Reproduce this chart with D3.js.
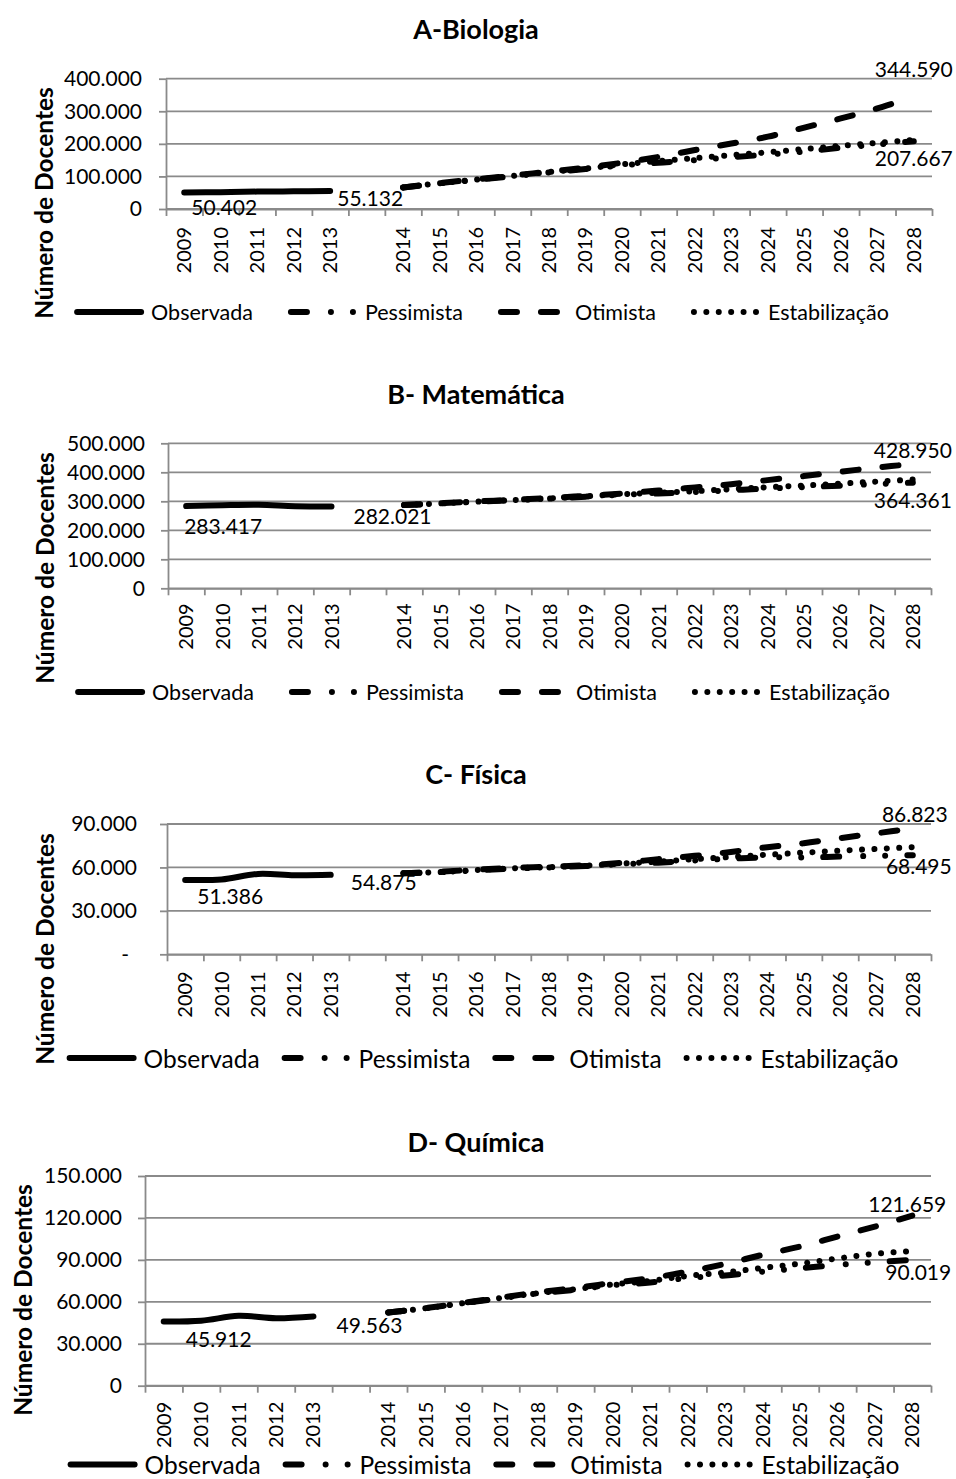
<!DOCTYPE html>
<html>
<head>
<meta charset="utf-8">
<script src="https://cdn.jsdelivr.net/npm/d3@7"></script>
<style>
  body { margin: 0; background: #fff; }
  text { font-family: Lato, "Open Sans", sans-serif; fill: #000; }
</style>
</head>
<body>
<svg id="chart" width="956" height="1479"></svg>
<script>
// categories: observed years, one empty slot, projected years
const years = ["2009", "2010", "2011", "2012", "2013", " ",
  "2014", "2015", "2016", "2017", "2018", "2019", "2020", "2021",
  "2022", "2023", "2024", "2025", "2026", "2027", "2028"];
const obsYears = years.slice(0, 5);
const projYears = years.slice(6);

const seriesNames = ["Observada", "Pessimista", "Otimista", "Estabilização"];

// A - Biologia
const bioObservada = [50402, 51800, 53400, 54300, 55132];
const bioPessimista = [66000, 78500, 89500, 100500, 112000, 122500, 134000, 142000, 150000, 159000, 167000, 176000, 188000, 198000, 207667];
const bioOtimista = [66000, 79500, 91000, 102500, 115000, 127000, 142000, 160000, 181000, 201000, 222000, 250000, 278000, 309000, 344590];
const bioEstabilizacao = [66000, 79000, 90000, 101500, 113500, 124000, 137000, 147000, 156000, 165000, 174000, 184000, 194000, 203000, 212000];
const bioTicks = [0, 100000, 200000, 300000, 400000];
const bioTickLabels = ["0", "100.000", "200.000", "300.000", "400.000"];

// B - Matemática
const matObservada = [283417, 286500, 288000, 283000, 282021];
const matPessimista = [287000, 292500, 298500, 304000, 309500, 316000, 323000, 327000, 332000, 338000, 344000, 349000, 354000, 359500, 364361];
const matOtimista = [287000, 293500, 299500, 305000, 311000, 319000, 327000, 337000, 348000, 359000, 373000, 387000, 402000, 416000, 428950];
const matEstabilizacao = [287000, 293000, 299000, 304500, 310000, 317000, 324500, 329500, 335000, 342000, 348500, 354500, 361000, 368000, 375000];
const matTicks = [0, 100000, 200000, 300000, 400000, 500000];
const matTickLabels = ["0", "100.000", "200.000", "300.000", "400.000", "500.000"];

// C - Física
const fisObservada = [51386, 51700, 55500, 54600, 54875];
const fisPessimista = [56000, 56700, 58000, 59200, 60000, 61000, 62300, 63300, 64800, 66000, 67000, 66800, 67500, 68000, 68495];
const fisOtimista = [56000, 57000, 58500, 59700, 60500, 61500, 63200, 65700, 68000, 70700, 74000, 76700, 80200, 83600, 86823];
const fisEstabilizacao = [56000, 56800, 58200, 59400, 60200, 61200, 62700, 64000, 65700, 67200, 68800, 70200, 71600, 72800, 74000];
const fisTicks = [0, 30000, 60000, 90000];
const fisTickLabels = ["-", "30.000", "60.000", "90.000"];

// D - Química
const quiObservada = [45912, 46500, 50000, 48300, 49563];
const quiPessimista = [52300, 55400, 59000, 62500, 66000, 68700, 72000, 73800, 77000, 78800, 81600, 84000, 86400, 88300, 90019];
const quiOtimista = [52300, 55500, 59200, 63000, 66800, 70000, 73500, 76900, 81600, 87100, 93600, 99500, 106700, 113800, 121659];
const quiEstabilizacao = [52300, 55400, 59000, 62700, 66200, 69000, 72400, 75000, 78500, 81000, 84200, 87300, 91000, 94300, 96300];
const quiTicks = [0, 30000, 60000, 90000, 120000, 150000];
const quiTickLabels = ["0", "30.000", "60.000", "90.000", "120.000", "150.000"];

const fmt = d3.formatLocale({decimal: ",", thousands: ".", grouping: [3], currency: ["R$", ""]}).format(",d");

const panels = [
  {title: "A-Biologia", series: [bioObservada, bioPessimista, bioOtimista, bioEstabilizacao],
   ticks: bioTicks, tickLabels: bioTickLabels,
   left: 166, right: 932, top: 78.7, bottom: 209, titleY: 28, axTitleX: 43, axTitleY: 203,
   tickPad: 17, labelGap: 18, legendY: 312, legendSize: 21.5, legendPad: 38, legendMid: 480,
   labels: [[0, 0, 40, 14], [0, 4, 40, 6], [2, 14, 0, -28], [1, 14, 0, 16]]},
  {title: "B- Matemática", series: [matObservada, matPessimista, matOtimista, matEstabilizacao],
   ticks: matTicks, tickLabels: matTickLabels,
   left: 168, right: 931, top: 443.3, bottom: 588.3, titleY: 393, axTitleX: 44, axTitleY: 568,
   tickPad: 16, labelGap: 15, legendY: 692, legendSize: 21.5, legendPad: 38, legendMid: 481,
   labels: [[0, 0, 37, 19], [0, 4, 61, 8.5], [2, 14, 0, -14], [1, 14, 0, 17]]},
  {title: "C- Física", series: [fisObservada, fisPessimista, fisOtimista, fisEstabilizacao],
   ticks: fisTicks, tickLabels: fisTickLabels,
   left: 167, right: 931, top: 824, bottom: 954.3, titleY: 773, axTitleX: 44, axTitleY: 949,
   tickPad: 23, labelGap: 17, legendY: 1058, legendSize: 24.5, legendPad: 25, legendMid: 481,
   labels: [[0, 0, 45, 16], [0, 4, 53, 7], [2, 14, 2, -15], [1, 14, 6, 10]]},
  {title: "D- Química", series: [quiObservada, quiPessimista, quiOtimista, quiEstabilizacao],
   ticks: quiTicks, tickLabels: quiTickLabels,
   left: 145, right: 931, top: 1176, bottom: 1385.7, titleY: 1141, axTitleX: 22, axTitleY: 1300,
   tickPad: 16, labelGap: 16, legendY: 1464.5, legendSize: 24.5, legendPad: 25, legendMid: 482,
   labels: [[0, 0, 55, 16.5], [0, 4, 56, 7.6], [2, 14, -5, -12], [1, 14, 6, 12]]}
];

const gridColor = "#8a8a8a";
const lineW = 6;
const dashes = [null, "16,24,0.01,22,0.01,22", "16,24", "0.01,12.4"];

const svg = d3.select("#chart");
svg.append("rect").attr("width", 956).attr("height", 1479).attr("fill", "#fff");

function styleAxis(g) {
  g.select(".domain").attr("stroke", gridColor).attr("stroke-width", 1.8);
  g.selectAll(".tick line").attr("stroke", gridColor).attr("stroke-width", 1.8);
}

panels.forEach(p => {
  const g = svg.append("g");
  const x = d3.scaleBand().domain(years).range([p.left, p.right]);
  const xEdge = d3.scaleLinear().domain([0, years.length]).range([p.left, p.right]);
  const y = d3.scaleLinear().domain([0, d3.max(p.ticks)]).range([p.bottom, p.top]);
  const cx = yr => x(yr) + x.bandwidth() / 2;

  // title
  g.append("text")
    .attr("x", 476).attr("y", p.titleY)
    .attr("text-anchor", "middle").attr("dominant-baseline", "central")
    .style("font-size", "27px").style("font-weight", "bold")
    .text(p.title);

  // gridlines
  g.append("g").selectAll("line")
    .data(p.ticks)
    .join("line")
    .attr("x1", p.left).attr("x2", p.right)
    .attr("y1", d => y(d)).attr("y2", d => y(d))
    .attr("stroke", gridColor).attr("stroke-width", 1.8);

  // y axis
  const yAxis = g.append("g")
    .attr("transform", `translate(${p.left},0)`)
    .call(d3.axisLeft(y).tickValues(p.ticks).tickFormat((d, i) => p.tickLabels[i])
      .tickSize(7).tickSizeOuter(0).tickPadding(p.tickPad));
  styleAxis(yAxis);
  yAxis.selectAll("text")
    .style("font-size", "21px").style("font-family", "Lato, sans-serif").attr("fill", "#000")
    .attr("dx", d => p.tickLabels[p.ticks.indexOf(d)] === "-" ? -8 : 0);

  // x axis: tick marks between categories
  const xTicks = g.append("g")
    .attr("transform", `translate(0,${p.bottom})`)
    .call(d3.axisBottom(xEdge).tickValues(d3.range(years.length + 1)).tickFormat("")
      .tickSize(7).tickSizeOuter(0));
  styleAxis(xTicks);

  // x axis labels, rotated
  const xLab = g.append("g")
    .attr("transform", `translate(0,${p.bottom})`)
    .call(d3.axisBottom(x).tickSize(0).tickSizeOuter(0));
  xLab.select(".domain").remove();
  xLab.selectAll("text")
    .attr("transform", "rotate(-90)")
    .attr("text-anchor", "end")
    .attr("x", -p.labelGap).attr("y", 0).attr("dy", "0.35em")
    .style("font-size", "20px").style("font-family", "Lato, sans-serif").attr("fill", "#000");

  // axis title
  g.append("text")
    .attr("transform", `translate(${p.axTitleX},${p.axTitleY}) rotate(-90)`)
    .attr("text-anchor", "middle").attr("dominant-baseline", "central")
    .style("font-size", "24.5px").style("font-weight", "bold")
    .text("Número de Docentes");

  // series lines
  const line = d3.line()
    .x(d => cx(d.year)).y(d => y(d.v))
    .curve(d3.curveCatmullRom);
  const seriesData = p.series.map((vals, si) => {
    const ys = si === 0 ? obsYears : projYears;
    return vals.map((v, i) => ({year: ys[i], v: v}));
  });
  g.append("g").selectAll("path")
    .data(seriesData)
    .join("path")
    .attr("d", d => line(d))
    .attr("fill", "none").attr("stroke", "#000")
    .attr("stroke-width", lineW)
    .attr("stroke-linecap", "round").attr("stroke-linejoin", "round")
    .attr("stroke-dasharray", (d, i) => dashes[i]);

  // data labels
  g.append("g").selectAll("text")
    .data(p.labels)
    .join("text")
    .attr("x", d => cx(seriesData[d[0]][d[1]].year) + d[2])
    .attr("y", d => y(seriesData[d[0]][d[1]].v) + d[3])
    .attr("text-anchor", "middle").attr("dominant-baseline", "central")
    .style("font-size", "21px")
    .text(d => fmt(seriesData[d[0]][d[1]].v));

  // legend
  const leg = g.append("g");
  const items = leg.selectAll("g")
    .data(seriesNames)
    .join("g");
  items.append("line")
    .attr("x1", 3).attr("x2", 67)
    .attr("y1", 0).attr("y2", 0)
    .attr("stroke", "#000").attr("stroke-width", lineW)
    .attr("stroke-linecap", "round")
    .attr("stroke-dasharray", (d, i) => dashes[i]);
  items.append("text")
    .attr("x", 77).attr("y", 0)
    .attr("dominant-baseline", "central")
    .style("font-size", p.legendSize + "px")
    .text(d => d);
  const widths = [];
  items.each(function () { widths.push(this.getBBox().width); });
  const total = d3.sum(widths) + p.legendPad * (widths.length - 1);
  let pos = p.legendMid - total / 2;
  items.attr("transform", (d, i) => {
    const t = `translate(${pos},${p.legendY})`;
    pos += widths[i] + p.legendPad;
    return t;
  });
});
</script>
</body>
</html>
